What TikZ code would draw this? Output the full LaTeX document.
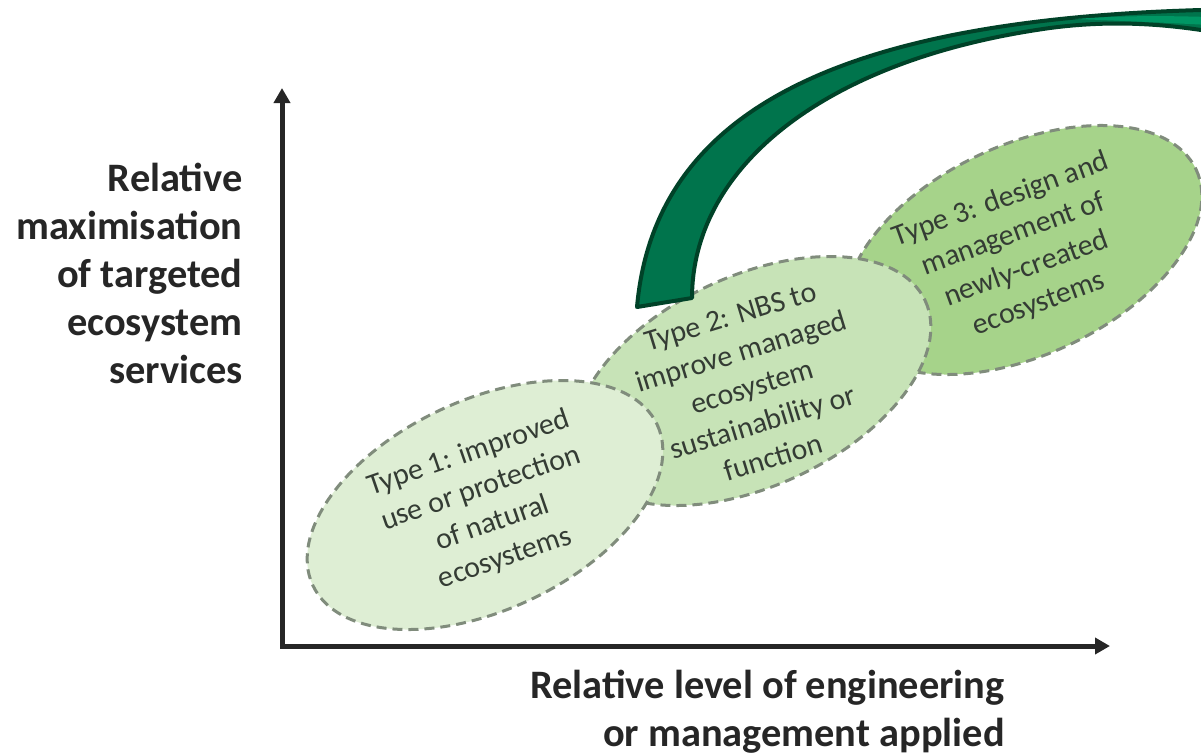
\documentclass[tikz,border=0pt]{standalone}
\usepackage{fontspec}
\setmainfont{Carlito}
\usetikzlibrary{arrows.meta,positioning,calc}

\definecolor{typeone}{RGB}{222,238,212}
\definecolor{typetwo}{RGB}{199,227,183}
\definecolor{typethree}{RGB}{166,211,138}
\definecolor{rimgrey}{RGB}{128,140,124}
\definecolor{bandgreen}{RGB}{0,116,76}
\definecolor{banddark}{RGB}{0,66,40}
\definecolor{bandlight}{RGB}{0,150,100}
\definecolor{inkgrey}{RGB}{52,60,52}

\begin{document}
\begin{tikzpicture}[x=0.02cm, y=-0.02cm,
    axis/.style={draw=black!85, line width=0.1cm, line cap=rect, -{Triangle[length=0.3cm,width=0.32cm]}},
    blob/.style={draw=rimgrey, line width=0.06cm, dash pattern=on 0.2cm off 0.12cm},
    typetext/.style={align=center, text=inkgrey, font=\fontsize{17}{21}\selectfont, inner sep=0},
    axislabel/.style={font=\fontsize{23}{27.3}\selectfont\bfseries, text=black!85, inner sep=0, align=right}]

        \useasboundingbox (0,0) rectangle (1201,755);
        \clip (0,0) rectangle (1201,755);

        % Define corner and ends of the axes
        \coordinate (origin) at (282,646);
        \coordinate (ytip) at (282,88);
        \coordinate (xtip) at (1110,646);

        % Define radii and centre points of the ellipses
        \def\ra{190}
        \def\rb{105}
        \coordinate (t3c) at (1024,250);
        \coordinate (t2c) at (753,381);
        \coordinate (t1c) at (485,505);

        % ellipses, back to front
        \draw[blob, fill=typethree, rotate around={25:(t3c)}] (t3c) ellipse [x radius=\ra, y radius=\rb];
        \draw[blob, fill=typetwo, rotate around={25:(t2c)}] (t2c) ellipse [x radius=\ra, y radius=\rb];
        \draw[blob, fill=typeone, rotate around={25:(t1c)}] (t1c) ellipse [x radius=\ra, y radius=\rb];

        \node[typetext, rotate=19] (t1text) at ($(t1c)+(2,1)$) {Type 1: improved\\use or protection\\of natural\\ecosystems};
        \node[typetext, rotate=17] (t2text) at ($(t2c)+(-1,6)$) {Type 2: NBS to\\improve managed\\ecosystem\\sustainability or\\function};
        \node[typetext, rotate=20] (t3text) at ($(t3c)+(-4,2)$) {Type 3: design and\\management of\\newly-created\\ecosystems};

        % the green band
        \filldraw[fill=bandgreen, draw=banddark, line width=0.08cm, line join=round]
            (637,307) .. controls (655,105) and (850,20) .. (1201,10) -- (1230,9) -- (1230,34) -- (1201,30)
            .. controls (1160,24) and (1110,20) .. (1050,28)
            .. controls (820,60) and (692,170) .. (692,298) -- cycle;
        \fill[bandlight] (1075,19) .. controls (1130,15) and (1170,16) .. (1210,17) -- (1210,25) .. controls (1170,23) and (1130,21) .. (1075,19) -- cycle;

        % axes
        \draw[axis] (origin) -- (ytip);
        \draw[axis] (origin) -- (xtip);

        % labels
        \node[axislabel, anchor=north east] (ylabel) at (243,163) {Relative\\maximisation\\of targeted\\ecosystem\\services};
        \node[axislabel, anchor=north east] (xlabel) at (1005,670) {Relative level of engineering\\or management applied};

\end{tikzpicture}
\end{document}
